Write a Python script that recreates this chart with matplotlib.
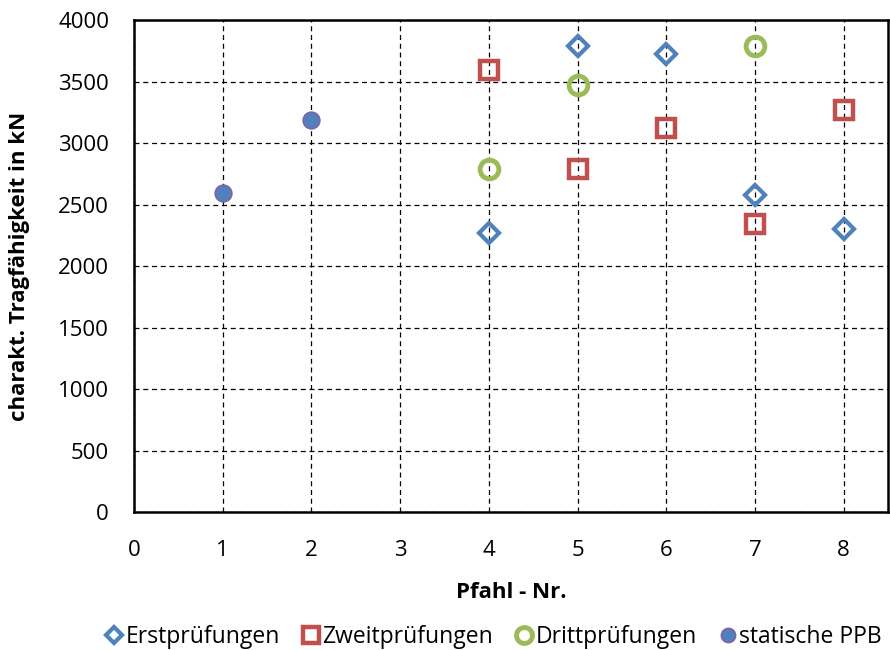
import matplotlib
matplotlib.use("Agg")
import matplotlib.pyplot as plt

plt.rcParams['font.family'] = ['Open Sans', 'DejaVu Sans']

# Pfahl-Nummern und Tragfähigkeiten (kN)
pfahl_erst = [4, 5, 6, 7, 8]
erst = [2270, 3790, 3720, 2575, 2300]

pfahl_zweit = [4, 5, 6, 7, 8]
zweit = [3590, 2790, 3120, 2340, 3270]

pfahl_dritt = [4, 5, 7]
dritt = [2790, 3470, 3790]

pfahl_stat = [1, 2]
stat = [2590, 3190]

x_ticks = [0, 1, 2, 3, 4, 5, 6, 7, 8]
y_ticks = [0, 500, 1000, 1500, 2000, 2500, 3000, 3500, 4000]

blau = "#4F81BD"
rot = "#C0504D"
gruen = "#9BBB59"
lila = "#8064A2"

fig = plt.figure(figsize=(8.9, 6.5), dpi=100)
ax = fig.add_axes([0.1506, 0.2123, 0.8472, 0.7569])

ax.plot(pfahl_erst, erst, linestyle="none", marker="D", markersize=10,
        markerfacecolor="none", markeredgecolor=blau, markeredgewidth=3,
        label="Erstprüfungen", zorder=3)
ax.plot(pfahl_zweit, zweit, linestyle="none", marker="s", markersize=13,
        markerfacecolor="none", markeredgecolor=rot, markeredgewidth=3.2,
        label="Zweitprüfungen", zorder=3)
ax.plot(pfahl_dritt, dritt, linestyle="none", marker="o", markersize=13.5,
        markerfacecolor="none", markeredgecolor=gruen, markeredgewidth=3.5,
        label="Drittprüfungen", zorder=3)
ax.plot(pfahl_stat, stat, linestyle="none", marker="o", markersize=12,
        markerfacecolor=blau, markeredgecolor=lila, markeredgewidth=1.2,
        label="statische PPB", zorder=3)

ax.set_xlim(0, 8.5)
ax.set_ylim(0, 4000)
ax.set_xticks(x_ticks)
ax.set_yticks(y_ticks)
ax.tick_params(axis="both", length=0, labelsize=16)
ax.tick_params(axis="x", pad=20)
ax.tick_params(axis="y", pad=18)
ax.grid(True, linestyle=(0, (4, 3)), color="black", linewidth=0.9)
ax.set_axisbelow(True)
for s in ax.spines.values():
    s.set_linewidth(1.8)

ax.set_xlabel("Pfahl - Nr.", fontsize=16, fontweight="bold", labelpad=15)
ax.set_ylabel("charakt. Tragfähigkeit in kN", fontsize=16, fontweight="bold", labelpad=20)

fig.legend(loc="lower center", bbox_to_anchor=(0.555, -0.03), ncol=4, frameon=False,
           fontsize=16.5, markerscale=0.85, handlelength=0.7, handletextpad=0.15,
           columnspacing=1.0)

fig.savefig("out.png", dpi=100)
